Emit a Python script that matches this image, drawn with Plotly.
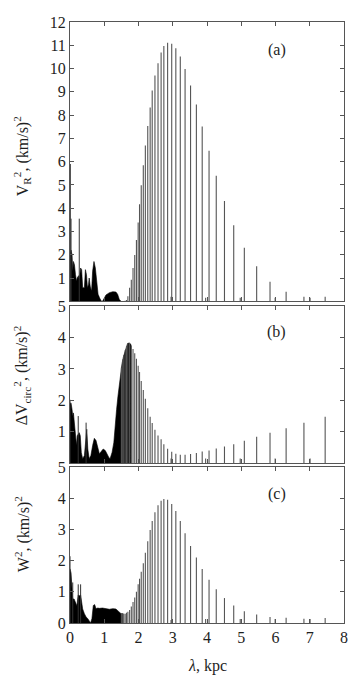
import plotly.graph_objects as go

# stem positions (kpc) shared by all three panels
lam = [1.50, 1.54, 1.57, 1.61, 1.65, 1.69, 1.74, 1.79, 1.84, 1.89,
       1.94, 1.99, 2.03, 2.08, 2.14, 2.20, 2.27, 2.34, 2.40, 2.48,
       2.57, 2.66, 2.74, 2.85, 2.97, 3.09, 3.22, 3.36, 3.52, 3.69,
       3.86, 4.06, 4.27, 4.51, 4.78, 5.09, 5.45, 5.84, 6.31, 6.83, 7.45]

vr2 = [0.0, 0.0, 0.0, 0.02, 0.05, 0.22, 0.58, 0.93, 1.43, 1.99,
       2.63, 3.38, 4.17, 4.99, 5.84, 6.69, 7.53, 8.33, 9.06, 9.70,
       10.23, 10.69, 10.97, 11.11, 11.07, 10.87, 10.52, 9.98, 9.27, 8.45,
       7.51, 6.47, 5.39, 4.31, 3.27, 2.30, 1.50, 0.84, 0.41, 0.20, 0.20]

dvc2 = [3.05, 3.30, 3.44, 3.60, 3.73, 3.81, 3.83, 3.75, 3.64, 3.50,
        3.33, 3.10, 2.90, 2.62, 2.33, 2.05, 1.75, 1.48, 1.28, 1.06,
        0.88, 0.76, 0.60, 0.46, 0.36, 0.30, 0.27, 0.27, 0.29, 0.32,
        0.37, 0.40, 0.47, 0.53, 0.60, 0.71, 0.84, 0.97, 1.11, 1.29, 1.48]

w2 = [0.30, 0.31, 0.30, 0.30, 0.33, 0.36, 0.42, 0.53, 0.67, 0.82,
      1.00, 1.24, 1.42, 1.64, 1.92, 2.25, 2.62, 2.98, 3.27, 3.55,
      3.78, 3.92, 3.98, 3.95, 3.82, 3.59, 3.27, 2.88, 2.47, 2.10,
      1.73, 1.39, 1.08, 0.80, 0.56, 0.38, 0.27, 0.19, 0.17, 0.14, 0.16]

# second, small set of stems
lam_small = [2.95, 3.96, 4.97, 5.99, 7.01]
vr2_small = [0.20, 0.15, 0.15, 0.15, 0.15]
dvc2_small = [0.15, 0.15, 0.15, 0.15, 0.15]
w2_small = [0.10, 0.13, 0.13, 0.13, 0.13]

# dense short-wavelength part (envelope of the black region)
dense_a_lam = [0.0, 0.03, 0.06, 0.08, 0.10, 0.13, 0.16, 0.19, 0.21, 0.25,
               0.27, 0.31, 0.34, 0.37, 0.42, 0.45, 0.48, 0.51, 0.54, 0.56,
               0.59, 0.63, 0.66, 0.70, 0.74, 0.78, 0.82, 0.86, 0.91, 0.95,
               1.00, 1.05, 1.15, 1.25, 1.34, 1.39, 1.44, 1.49]
dense_a_val = [2.0, 2.2, 2.0, 1.29, 1.71, 1.57, 1.15, 0.86, 1.0, 1.1,
               0.93, 1.43, 1.36, 0.58, 0.58, 1.36, 1.15, 0.58, 0.72, 1.0,
               0.65, 0.44, 1.29, 1.71, 1.43, 0.65, 0.3, 0.16, 0.01, 0.0,
               0.16, 0.27, 0.37, 0.41, 0.40, 0.3, 0.08, 0.0]

dense_b_lam = [0.0, 0.03, 0.06, 0.08, 0.10, 0.13, 0.16, 0.19, 0.21, 0.27,
               0.30, 0.33, 0.37, 0.42, 0.49, 0.52, 0.56, 0.61, 0.66, 0.71,
               0.76, 0.81, 0.86, 0.91, 0.97, 1.03, 1.09, 1.13, 1.17, 1.23,
               1.28, 1.31, 1.36, 1.40, 1.44, 1.48, 1.52, 1.56, 1.60, 1.64,
               1.68, 1.73, 1.78, 1.78]
dense_b_val = [1.9, 1.92, 1.71, 1.5, 1.6, 1.29, 0.77, 0.56, 0.87, 0.97,
               0.87, 0.34, 0.14, 0.24, 1.08, 0.45, 0.14, 0.24, 0.56, 0.79,
               0.72, 0.45, 0.29, 0.37, 0.45, 0.40, 0.24, 0.19, 0.14, 0.35,
               0.66, 1.19, 1.71, 2.13, 2.55, 2.91, 3.18, 3.39, 3.54, 3.70,
               3.81, 3.83, 3.78, 0.0]

dense_c_lam = [0.0, 0.03, 0.06, 0.08, 0.12, 0.16, 0.20, 0.24, 0.27, 0.31,
               0.34, 0.37, 0.42, 0.47, 0.52, 0.56, 0.60, 0.64, 0.68, 0.72,
               0.76, 0.81, 0.86, 0.95, 1.05, 1.15, 1.25, 1.34, 1.42, 1.49,
               1.54, 1.54]
dense_c_val = [1.74, 1.61, 1.09, 0.77, 0.77, 0.66, 0.55, 0.9, 0.87, 0.9,
               0.66, 0.45, 0.30, 0.19, 0.14, 0.05, 0.0, 0.14, 0.56, 0.59,
               0.46, 0.48, 0.47, 0.48, 0.45, 0.44, 0.46, 0.45, 0.37, 0.30,
               0.30, 0.0]

# single tall spikes inside the dense part
spike_a_lam = [0.01, 0.03, 0.27]
spike_a_val = [5.9, 3.55, 3.55]
spike_b_lam = [0.0, 0.24, 0.47]
spike_b_val = [2.02, 1.5, 1.29]
spike_c_lam = [0.0, 0.08, 0.24, 0.31]
spike_c_val = [2.14, 1.3, 1.24, 1.24]

FONT = "Liberation Serif, Times New Roman, serif"
AXC = "#555555"
TXT = "#1e1e1e"


def stems(xs, ys):
    sx, sy = [], []
    for x, y in zip(xs, ys):
        sx += [x, x, None]
        sy += [0, y, None]
    return sx, sy


fig = go.Figure()

panels = [
    (dense_a_lam, dense_a_val, spike_a_lam, spike_a_val, vr2, vr2_small, "x", "y"),
    (dense_b_lam, dense_b_val, spike_b_lam, spike_b_val, dvc2, dvc2_small, "x2", "y2"),
    (dense_c_lam, dense_c_val, spike_c_lam, spike_c_val, w2, w2_small, "x3", "y3"),
]

for dl, dv, spl, spv, vals, small, xa, ya in panels:
    fig.add_trace(go.Scatter(x=dl, y=dv, mode="lines", fill="tozeroy",
                             fillcolor="black", line=dict(color="black", width=0.6),
                             xaxis=xa, yaxis=ya, hoverinfo="skip"))
    sx, sy = stems(spl, spv)
    fig.add_trace(go.Scatter(x=sx, y=sy, mode="lines",
                             line=dict(color="#333333", width=1),
                             xaxis=xa, yaxis=ya, hoverinfo="skip"))
    sx, sy = stems(lam + lam_small, vals + small)
    fig.add_trace(go.Scatter(x=sx, y=sy, mode="lines",
                             line=dict(color="#555555", width=1.1),
                             xaxis=xa, yaxis=ya, hoverinfo="skip"))

xcommon = dict(range=[0, 8], tickvals=list(range(0, 9)), ticks="inside", ticklen=4,
               tickcolor=AXC, showline=True, linecolor=AXC, linewidth=1, mirror="ticks",
               showgrid=False, zeroline=False)
ycommon = dict(ticks="inside", ticklen=4, tickcolor=AXC, showline=True, linecolor=AXC,
               linewidth=1, mirror="ticks", showgrid=False, zeroline=False)

# page has an 8px body margin, so the figure is drawn 8px in from the top-left
H = 609.0
fig.update_layout(
    width=352, height=670,
    margin=dict(l=62, r=16, t=6, b=55),
    paper_bgcolor="white", plot_bgcolor="white",
    showlegend=False,
    font=dict(family=FONT, size=16, color=TXT),
    xaxis=dict(xcommon, anchor="y", showticklabels=False),
    xaxis2=dict(xcommon, anchor="y2", matches="x", showticklabels=False),
    xaxis3=dict(xcommon, anchor="y3", matches="x", showticklabels=True),
    yaxis=dict(ycommon, range=[0, 12], tickvals=list(range(1, 13)),
               domain=[(623 - 297) / H, 1.0]),
    yaxis2=dict(ycommon, range=[0, 5], tickvals=list(range(1, 6)),
                domain=[(623 - 461) / H, (623 - 302) / H]),
    yaxis3=dict(ycommon, range=[0, 5], tickvals=list(range(0, 6)),
                domain=[0, (623 - 465) / H]),
)

ytitles = [
    ("V<sub>R</sub><sup>2</sup>, (km/s)<sup>2</sup>", (623 - 150) / H),
    ("ΔV<sub>circ</sub><sup>2</sup>, (km/s)<sup>2</sup>", (623 - 372) / H),
    ("W<sup>2</sup>, (km/s)<sup>2</sup>", (623 - 533) / H),
]
for txt, yp in ytitles:
    fig.add_annotation(text=txt, xref="paper", yref="paper", x=(22 - 70) / 274.0, y=yp,
                       textangle=-90, showarrow=False, xanchor="center", yanchor="middle",
                       font=dict(family=FONT, size=16, color=TXT))

fig.add_annotation(text="<i>λ</i>, kpc", xref="paper", yref="paper", x=0.5,
                   y=(623 - 667) / H, showarrow=False, yanchor="middle",
                   font=dict(family=FONT, size=16, color=TXT))

for lbl, xa, ya, yv in [("(a)", "x", "y", 10.8), ("(b)", "x2", "y2", 4.18), ("(c)", "x3", "y3", 4.15)]:
    fig.add_annotation(text=lbl, xref=xa, yref=ya, x=6.04, y=yv, showarrow=False,
                       font=dict(family=FONT, size=16, color=TXT))

fig.write_html("out.html")
